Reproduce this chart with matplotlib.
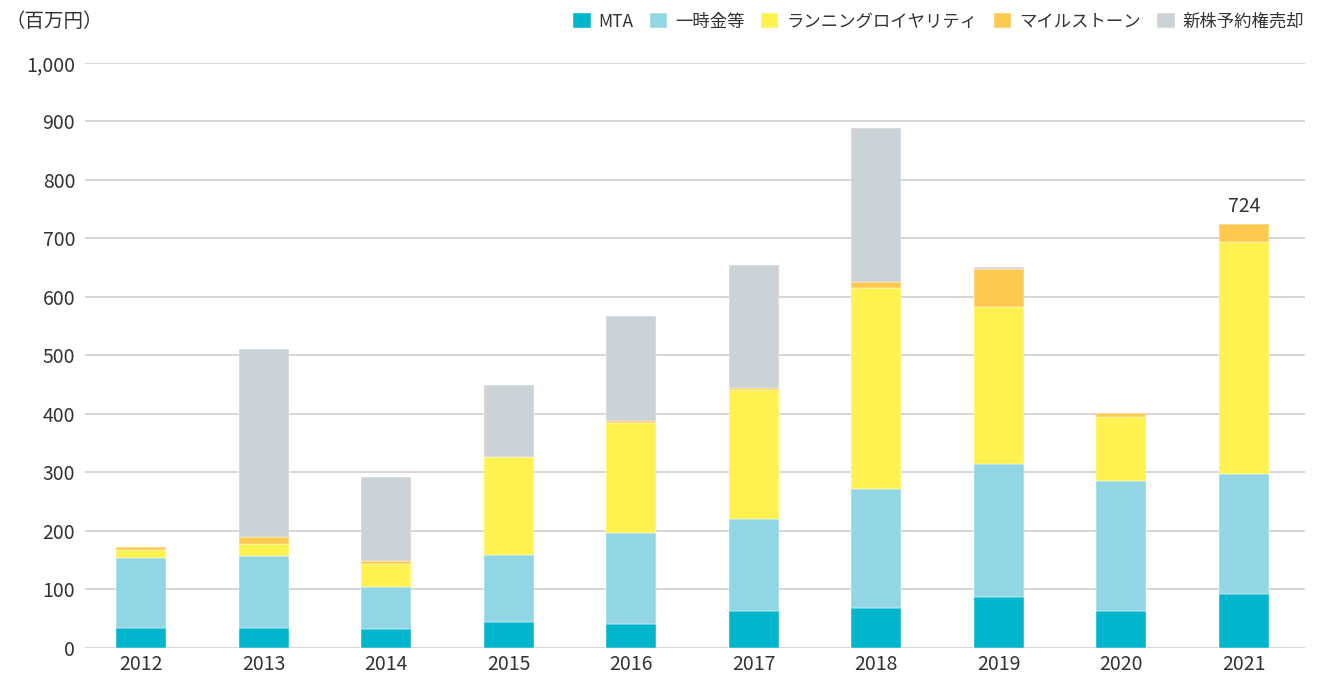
import numpy as np
import matplotlib.pyplot as plt

plt.rcParams['font.family'] = ['Noto Sans CJK JP', 'DejaVu Sans']

# 売上高の内訳（百万円）
years = ['2012', '2013', '2014', '2015', '2016', '2017', '2018', '2019', '2020', '2021']
mta = [35, 35, 32, 45, 41, 64, 69, 87, 64, 93]
lump_sum = [119, 122, 72, 114, 155, 156, 203, 228, 221, 205]
royalty = [14, 21, 40, 168, 188, 221, 343, 268, 110, 396]
milestone = [5, 12, 5, 0, 4, 4, 11, 64, 7, 30]
stock_sale = [0, 321, 143, 123, 179, 210, 263, 4, 0, 0]

series = [mta, lump_sum, royalty, milestone, stock_sale]
names = ['MTA', '一時金等', 'ランニングロイヤリティ', 'マイルストーン', '新株予約権売却']
colors = ['#00b5cc', '#93d6e3', '#fef251', '#fec950', '#ccd3d6']

fig = plt.figure(figsize=(13.17, 6.75), dpi=100)
ax = fig.add_axes([0.0645, 0.04, 0.9265, 0.8667])

x = np.arange(len(years))
bottom = np.zeros(len(years))
for vals, name, col in zip(series, names, colors):
    ax.bar(x, vals, width=0.41, bottom=bottom, color=col, label=name,
           edgecolor='white', linewidth=0.3, zorder=3)
    bottom += np.array(vals)

# 直近年度の合計を表示
ax.text(x[-1], bottom[-1] + 12, f'{int(bottom[-1])}', ha='center', va='bottom',
        fontsize=14, color='#333333')

ax.set_xlim(-0.46, 9.5)
ax.set_ylim(0, 1000)
ax.set_yticks(range(0, 1001, 100))
ax.set_yticklabels([f'{v:,}' for v in range(0, 1001, 100)])
ax.set_xticks(x)
ax.set_xticklabels(years)
ax.tick_params(axis='both', length=0, labelsize=14, colors='#333333')
ax.tick_params(axis='y', pad=7)
ax.tick_params(axis='x', pad=4)
ax.grid(axis='y', color='#cccccc', linewidth=1.1, zorder=0)
for s in ax.spines.values():
    s.set_visible(False)

fig.text(0.004, 0.968, '（百万円）', fontsize=14, color='#333333', va='center')

handles, labels = ax.get_legend_handles_labels()
fig.legend(handles, labels, loc='center right', bbox_to_anchor=(1.002, 0.968),
           ncol=5, frameon=False, fontsize=12.5, handlelength=1.0, handleheight=1.0,
           handletextpad=0.45, columnspacing=0.95, labelcolor='#333333')

fig.savefig('out.png', dpi=100)
